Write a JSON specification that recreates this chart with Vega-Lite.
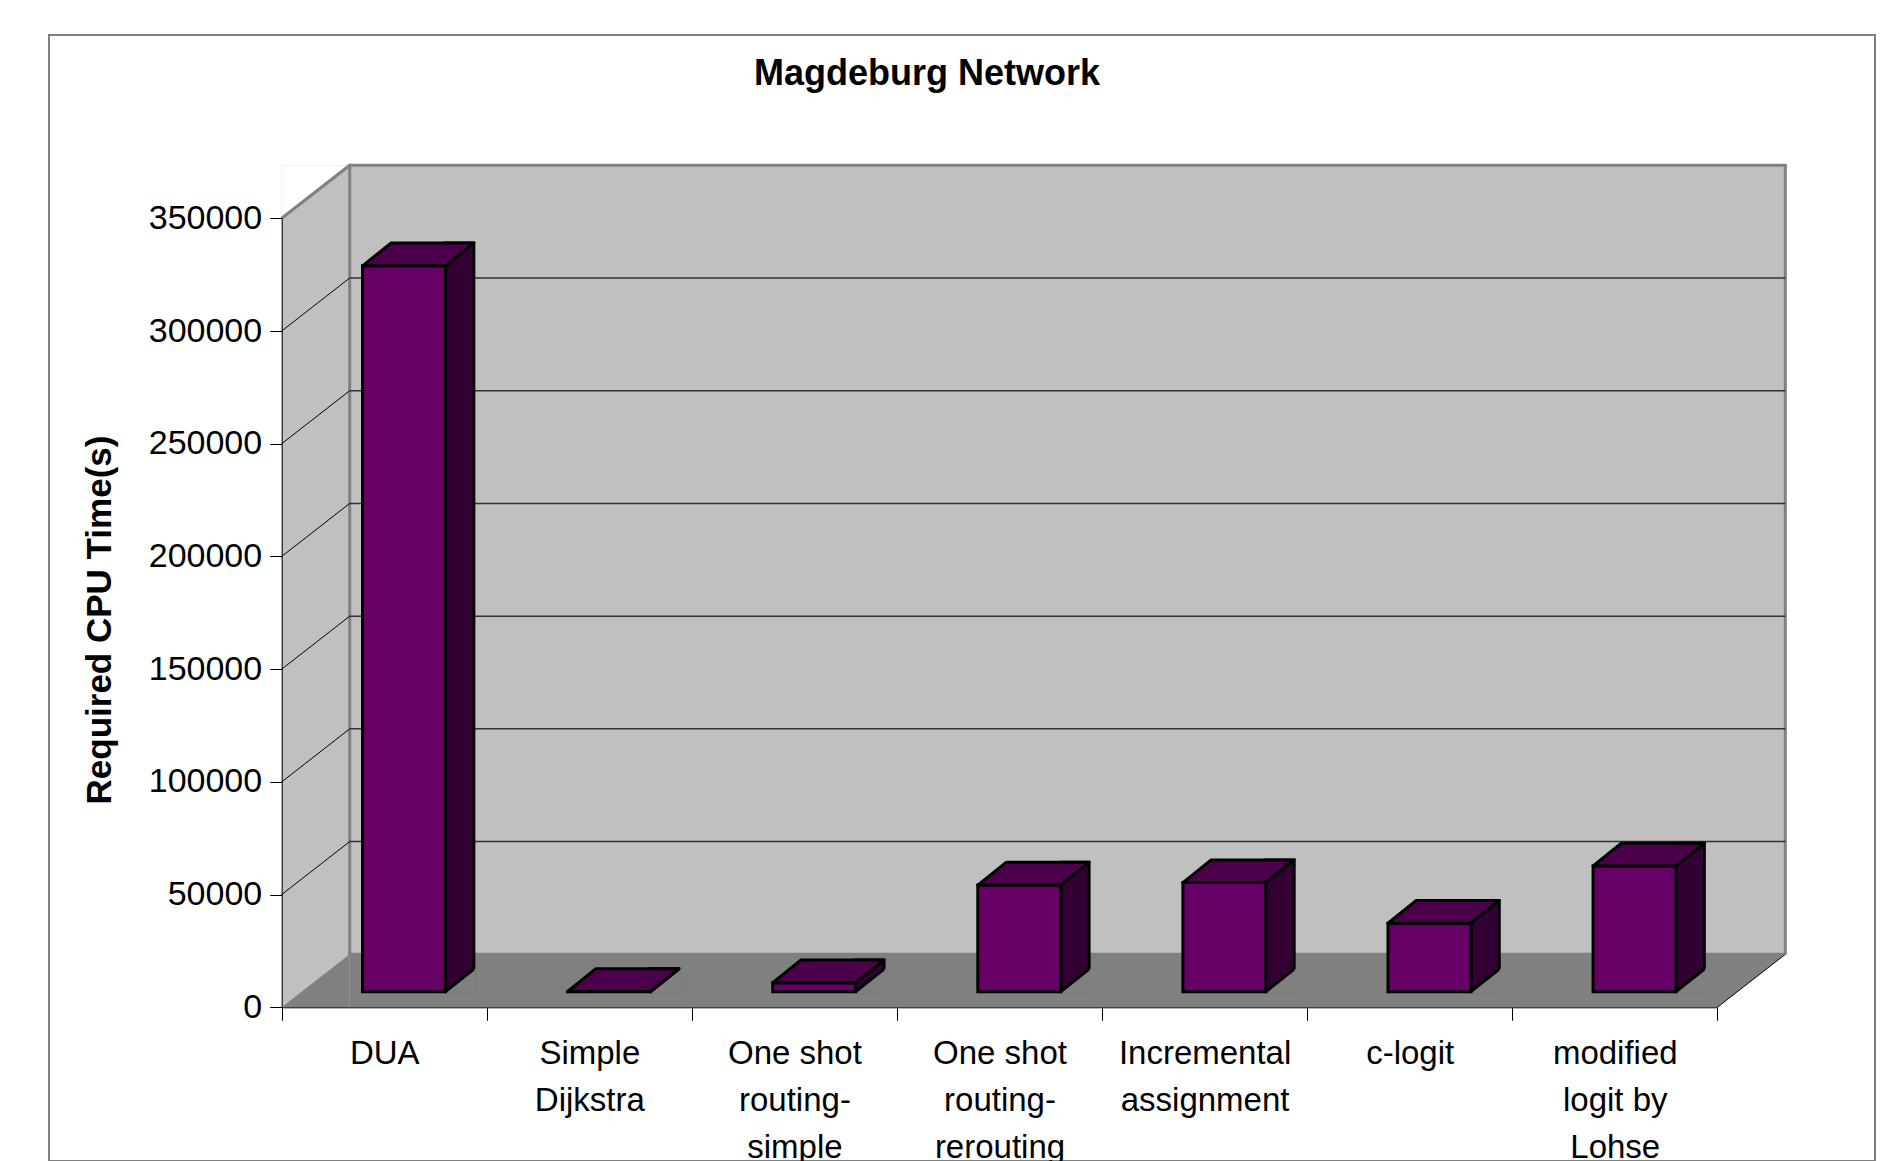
{
  "$schema": "https://vega.github.io/schema/vega-lite/v6.json",
  "autosize": {"type": "none"},
  "padding": {"left": 49, "top": 35, "right": 24, "bottom": 0},
  "width": 1826,
  "height": 1126,
  "background": "white",
  "title": {
    "text": "Magdeburg Network",
    "font": "Liberation Sans",
    "fontSize": 36,
    "fontWeight": "bold",
    "color": "black",
    "frame": "group",
    "anchor": "middle",
    "orient": "top",
    "offset": -47,
    "baseline": "alphabetic",
    "dx": -35,
    "dy": 39
  },
  "datasets": {
    "methods": [
      {"method": "DUA", "cpu": 322000},
      {"method": "Simple Dijkstra", "cpu": 100},
      {"method": "One shot routing-simple", "cpu": 4000},
      {"method": "One shot routing-rerouting", "cpu": 47300},
      {"method": "Incremental assignment", "cpu": 48400},
      {"method": "c-logit", "cpu": 30400},
      {"method": "modified logit by Lohse", "cpu": 55800}
    ],
    "levels": [
      {"level": 50000},
      {"level": 100000},
      {"level": 150000},
      {"level": 200000},
      {"level": 250000},
      {"level": 300000}
    ]
  },
  "data": {"name": "methods"},
  "layer": [
    {
      "data": {"values": [{}]},
      "layer": [
        {
          "mark": {"type": "rect", "fill": "#C0C0C0", "x2Offset": 68, "yOffset": -53},
          "encoding": {
            "x": {"datum": 0, "type": "quantitative", "scale": {"domain": [0, 7], "range": [232.7, 1668.3], "nice": false, "zero": false}, "axis": null},
            "x2": {"datum": 0},
            "y": {"datum": 350000, "type": "quantitative", "scale": {"domain": [0, 350000], "range": [972.3, 183.3], "nice": false, "zero": false}},
            "y2": {"datum": 0}
          }
        },
        {
          "mark": {"type": "rect", "fill": "#C0C0C0", "stroke": "#808080", "strokeWidth": 3, "xOffset": 68, "x2Offset": 68, "yOffset": -53, "y2Offset": -53},
          "encoding": {
            "x": {"datum": 0, "type": "quantitative", "axis": null},
            "x2": {"datum": 7},
            "y": {"datum": 0, "type": "quantitative"},
            "y2": {"datum": 350000}
          }
        },
        {
          "data": {"name": "levels"},
          "mark": {"type": "rule", "stroke": "#333333", "strokeWidth": 1.5, "xOffset": 68, "x2Offset": 68, "yOffset": -53},
          "encoding": {
            "x": {"datum": 0, "type": "quantitative", "axis": null},
            "x2": {"datum": 7},
            "y": {"field": "level", "type": "quantitative"}
          }
        },
        {
          "mark": {"type": "rect", "fill": "#808080", "xOffset": 68, "x2Offset": 68, "y2Offset": -53},
          "encoding": {
            "x": {"datum": 0, "type": "quantitative", "axis": null},
            "x2": {"datum": 7},
            "y": {"datum": 0, "type": "quantitative"},
            "y2": {"datum": 0}
          }
        },
        {
          "mark": {"type": "point", "shape": "M0,0L68,-53L68,0Z", "size": 4, "filled": true, "fill": "#808080", "strokeWidth": 0, "opacity": 1},
          "encoding": {
            "x": {"datum": 0, "type": "quantitative", "axis": null},
            "y": {"datum": 0, "type": "quantitative"}
          }
        },
        {
          "mark": {"type": "point", "shape": "M0,0L68,-53L69,-53L69,1L0,1Z", "size": 4, "filled": true, "fill": "white", "strokeWidth": 0, "opacity": 1},
          "encoding": {
            "x": {"datum": 7, "type": "quantitative", "axis": null},
            "y": {"datum": 0, "type": "quantitative"}
          }
        },
        {
          "mark": {"type": "point", "shape": "M0,0L68,-53L0,-53Z", "size": 4, "filled": true, "fill": "white", "strokeWidth": 0, "opacity": 1},
          "encoding": {
            "x": {"datum": 0, "type": "quantitative", "axis": null},
            "y": {"datum": 350000, "type": "quantitative"}
          }
        },
        {
          "data": {"name": "levels"},
          "mark": {"type": "rule", "stroke": "black", "strokeWidth": 1, "x2Offset": 68, "y2Offset": -53},
          "encoding": {
            "x": {"datum": 0, "type": "quantitative", "axis": null},
            "x2": {"datum": 0},
            "y": {"field": "level", "type": "quantitative"},
            "y2": {"field": "level"}
          }
        },
        {
          "mark": {"type": "rule", "stroke": "#808080", "strokeWidth": 3, "x2Offset": 68, "y2Offset": -53},
          "encoding": {
            "x": {"datum": 0, "type": "quantitative", "axis": null},
            "x2": {"datum": 0},
            "y": {"datum": 350000, "type": "quantitative"},
            "y2": {"datum": 350000}
          }
        },
        {
          "mark": {"type": "rule", "stroke": "black", "strokeWidth": 1, "x2Offset": 68, "y2Offset": -53},
          "encoding": {
            "x": {"datum": 7, "type": "quantitative", "axis": null},
            "x2": {"datum": 7},
            "y": {"datum": 0, "type": "quantitative"},
            "y2": {"datum": 0}
          }
        }
      ]
    },
    {
      "encoding": {
        "x": {
          "field": "method",
          "type": "nominal",
          "sort": null,
          "scale": {
            "domain": ["DUA", "Simple Dijkstra", "One shot routing-simple", "One shot routing-rerouting", "Incremental assignment", "c-logit", "modified logit by Lohse"],
            "range": [232.7, 1668.3],
            "paddingInner": 0,
            "paddingOuter": 0
          },
          "axis": {
            "orient": "bottom",
            "offset": -153.7,
            "title": null,
            "tickBand": "extent",
            "grid": false,
            "domainColor": "black",
            "domainWidth": 1,
            "tickColor": "black",
            "tickWidth": 1,
            "tickSize": 13,
            "labelFont": "Liberation Sans",
            "labelFontSize": 33,
            "labelColor": "black",
            "labelAngle": 0,
            "labelPadding": 17,
            "labelBaseline": "top",
            "labelLineHeight": 47,
            "labelLimit": 400,
            "labelOverlap": false,
            "zindex": 1,
            "labelExpr": "datum.value == 'Simple Dijkstra' ? ['Simple', 'Dijkstra'] : datum.value == 'One shot routing-simple' ? ['One shot', 'routing-', 'simple'] : datum.value == 'One shot routing-rerouting' ? ['One shot', 'routing-', 'rerouting'] : datum.value == 'Incremental assignment' ? ['Incremental', 'assignment'] : datum.value == 'modified logit by Lohse' ? ['modified', 'logit by', 'Lohse'] : datum.label"
          }
        }
      },
      "layer": [
        {
          "mark": {"type": "bar", "width": 28.3, "xOffset": 75.45, "yOffset": -38.3, "y2Offset": -15.6, "fill": "#330033", "stroke": "black", "strokeWidth": 3},
          "encoding": {
            "y": {
              "field": "cpu",
              "type": "quantitative",
              "scale": {"domain": [0, 350000], "range": [972.3, 183.3], "nice": false, "zero": false},
              "axis": {
                "orient": "left",
                "offset": -232.7,
                "values": [0, 50000, 100000, 150000, 200000, 250000, 300000, 350000],
                "format": "d",
                "grid": false,
                "domainColor": "black",
                "domainWidth": 1,
                "tickColor": "black",
                "tickWidth": 1,
                "tickSize": 12,
                "labelFont": "Liberation Sans",
                "labelFontSize": 34,
                "labelColor": "black",
                "labelPadding": 8,
                "zindex": 1,
                "title": "Required CPU Time(s)",
                "titleFont": "Liberation Sans",
                "titleFontSize": 35,
                "titleFontWeight": "bold",
                "titleColor": "black",
                "titleAngle": -90,
                "titleAlign": "center",
                "titleBaseline": "middle",
                "titleX": -182,
                "titleY": 584.5
              }
            },
            "y2": {"datum": 0}
          }
        },
        {
          "mark": {"type": "point", "shape": "M61.3,-13.6L61.3,-15.6L89.6,-38.3L91.6,-38.3L91.6,-13.6Z", "size": 4, "filled": true, "fill": "#808080", "strokeWidth": 0, "opacity": 1},
          "encoding": {
            "y": {"datum": 0, "type": "quantitative"}
          }
        },
        {
          "mark": {"type": "point", "shape": "M61.3,-15.6L89.6,-38.3", "size": 4, "filled": false, "fill": "transparent", "stroke": "black", "strokeWidth": 3, "opacity": 1},
          "encoding": {
            "y": {"datum": 0, "type": "quantitative"}
          }
        },
        {
          "mark": {"type": "bar", "width": 83, "xOffset": 19.8, "yOffset": -15.6, "y2Offset": -15.6, "fill": "#660066", "stroke": "black", "strokeWidth": 3},
          "encoding": {
            "y": {"field": "cpu", "type": "quantitative"},
            "y2": {"datum": 0}
          }
        },
        {
          "mark": {"type": "point", "shape": "M-21.7,-15.6L61.3,-15.6L89.6,-38.3L6.6,-38.3Z", "size": 4, "filled": true, "fill": "#4C004C", "stroke": "black", "strokeWidth": 3, "strokeJoin": "round", "opacity": 1},
          "encoding": {
            "y": {"field": "cpu", "type": "quantitative"}
          }
        }
      ]
    }
  ],
  "resolve": {"scale": {"x": "independent"}, "axis": {"x": "independent"}},
  "config": {
    "view": {"stroke": "#808080", "strokeWidth": 2, "fill": "white"},
    "font": "Liberation Sans"
  }
}
